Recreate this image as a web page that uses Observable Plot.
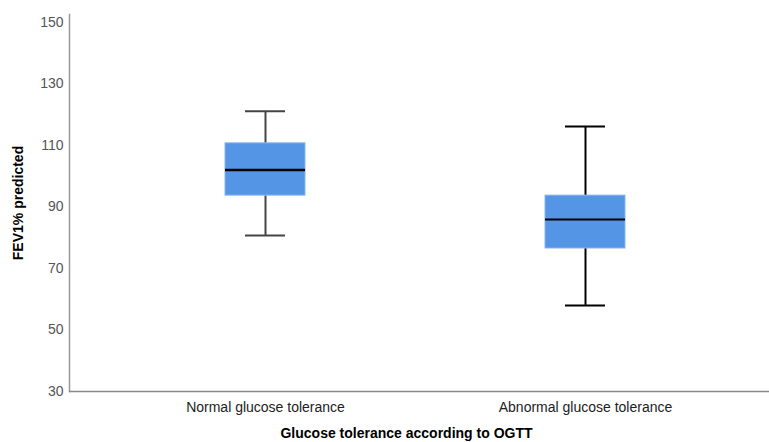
<!DOCTYPE html>
<html>
<head>
<meta charset="utf-8">
<script src="https://cdn.jsdelivr.net/npm/d3@7"></script>
<script src="https://cdn.jsdelivr.net/npm/@observablehq/plot@0.6"></script>
<style>
  html, body { margin: 0; padding: 0; background: #fff; }
  svg { display: block; }
</style>
</head>
<body>
<div id="chart"></div>
<script>
const groups = ["Normal glucose tolerance", "Abnormal glucose tolerance"];
const whiskerLow = [80.7, 58];
const q1 = [93.7, 76.5];
const median = [102, 85.9];
const q3 = [110.7, 93.7];
const whiskerHigh = [121.1, 116.2];
const yTicks = [30, 50, 70, 90, 110, 130, 150];

const data = groups.map((g, i) => ({
  group: g, lo: whiskerLow[i], q1: q1[i], med: median[i], q3: q3[i], hi: whiskerHigh[i]
}));

const font = "'Liberation Sans', Arial, sans-serif";

const chart = Plot.plot({
  width: 769,
  height: 442,
  marginLeft: 69,
  marginRight: 0,
  marginTop: 14,
  marginBottom: 51,
  style: { fontFamily: font, fontSize: "14px", color: "#333", background: "#fff" },
  x: {
    domain: groups,
    range: [69, 781],
    paddingInner: 0.75,
    paddingOuter: 0.4875,
    axis: null
  },
  y: {
    domain: [30, 152.6],
    axis: null
  },
  marks: [
    Plot.frame({ anchor: "left", stroke: "#999", strokeWidth: 1.5 }),
    Plot.ruleY([30], { stroke: "#888", strokeWidth: 1.5 }),
    Plot.axisY({
      ticks: yTicks,
      tickSize: 0,
      tickPadding: 6,
      fontSize: 14,
      fill: "#555",
      label: "FEV1% predicted",
      labelAnchor: "center",
      labelArrow: "none",
      labelOffset: 56
    }),
    Plot.axisX({
      tickSize: 0,
      tickPadding: 11,
      fontSize: 14,
      fill: "#222",
      label: null
    }),
    Plot.ruleX(data, { x: "group", y1: "lo", y2: "q1", stroke: (d, i) => i === 0 ? "#444" : "#000", strokeWidth: 2 }),
    Plot.ruleX(data, { x: "group", y1: "q3", y2: "hi", stroke: (d, i) => i === 0 ? "#444" : "#000", strokeWidth: 2 }),
    Plot.tickY(data, { x: "group", y: "lo", insetLeft: 20, insetRight: 20, stroke: (d, i) => i === 0 ? "#444" : "#000", strokeWidth: 2 }),
    Plot.tickY(data, { x: "group", y: "hi", insetLeft: 20, insetRight: 20, stroke: (d, i) => i === 0 ? "#444" : "#000", strokeWidth: 2 }),
    Plot.barY(data, { x: "group", y1: "q1", y2: "q3", fill: "#5595E6", stroke: "#8ab4ee", strokeWidth: 1 }),
    Plot.tickY(data, { x: "group", y: "med", stroke: "#000", strokeWidth: (d, i) => i === 0 ? 2.5 : 2 }),
    Plot.text(["Glucose tolerance according to OGTT"], {
      frameAnchor: "bottom", dx: -13, dy: 46, fontWeight: "bold", fontSize: 14, fill: "#000"
    })
  ]
});

chart.querySelectorAll("g[aria-label='y-axis label'] text, g[aria-label='y-axis label']").forEach(t => {
  t.setAttribute("font-weight", "bold");
  t.setAttribute("fill", "#000");
});
document.getElementById("chart").appendChild(chart);
</script>
</body>
</html>
